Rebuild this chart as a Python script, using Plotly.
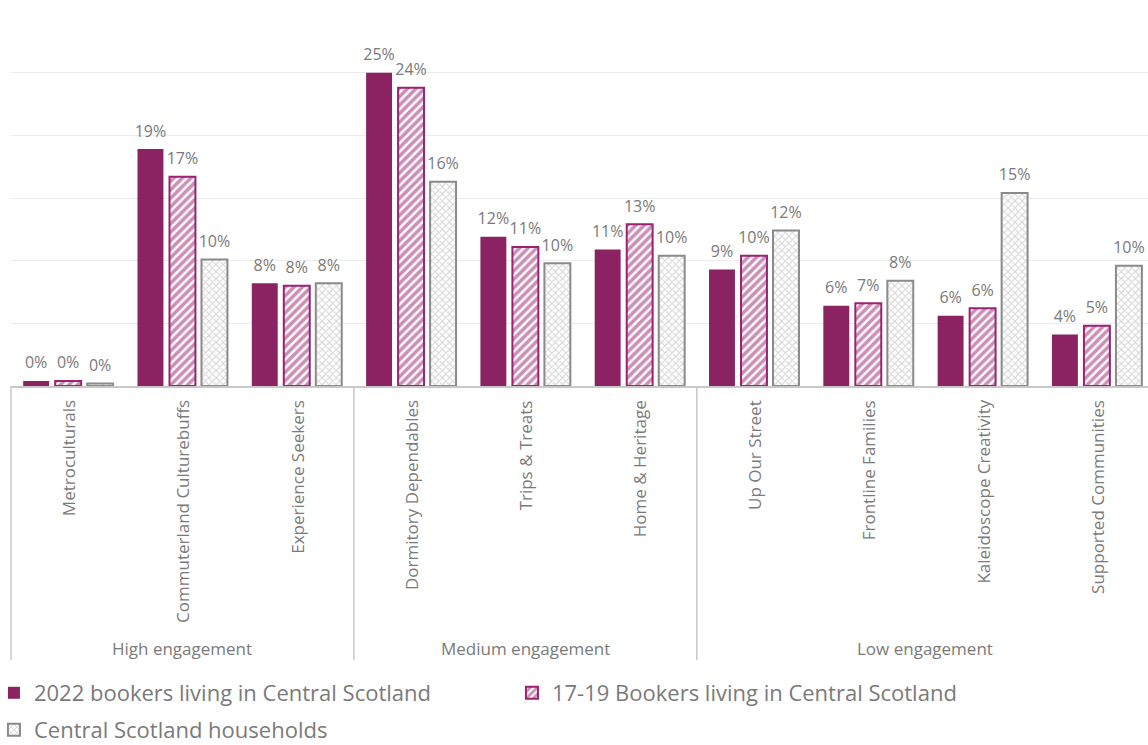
import plotly.graph_objects as go

# Audience segments, grouped by engagement level
segments = [
    "Metroculturals", "Commuterland Culturebuffs", "Experience Seekers",
    "Dormitory Dependables", "Trips & Treats", "Home & Heritage",
    "Up Our Street", "Frontline Families", "Kaleidoscope Creativity",
    "Supported Communities",
]
engagement_groups = ["High engagement", "Medium engagement", "Low engagement"]
group_sizes = [3, 3, 4]

# Share of each population in each segment
bookers_2022 = [0.004, 0.189, 0.082, 0.250, 0.119, 0.109, 0.093, 0.064, 0.056, 0.041]
bookers_1719 = [0.004, 0.167, 0.080, 0.238, 0.111, 0.129, 0.104, 0.066, 0.062, 0.048]
households = [0.002, 0.101, 0.082, 0.163, 0.098, 0.104, 0.124, 0.084, 0.154, 0.096]

series_names = [
    "2022 bookers living in Central Scotland",
    "17-19 Bookers living in Central Scotland",
    "Central Scotland households",
]
series_legends = ["legend", "legend", "legend2"]

FONT = "Open Sans"
TEXT_GREY = "#7a7a7a"
MAGENTA = "#8b2363"
MAGENTA_HATCH = "#9a2270"
GREY_EDGE = "#8a8a8a"

xpos = list(range(len(segments)))
series_values = [bookers_2022, bookers_1719, households]
markers = [
    dict(color=MAGENTA, line=dict(width=0)),
    dict(
        color="white",
        line=dict(color=MAGENTA_HATCH, width=2),
        pattern=dict(shape="/", fgcolor=MAGENTA_HATCH, bgcolor="white",
                     size=6, solidity=0.6, fillmode="overlay"),
    ),
    dict(
        color="white",
        line=dict(color=GREY_EDGE, width=2),
        pattern=dict(shape="x", fgcolor="#b4b4b4", bgcolor="white",
                     size=5, solidity=0.4, fillmode="overlay"),
    ),
]

BARGAP = 0.16

fig = go.Figure()
for k, (name, vals, mk, lg) in enumerate(
        zip(series_names, series_values, markers, series_legends)):
    fig.add_trace(go.Bar(
        name=name, x=xpos, y=vals, marker=mk, legend=lg,
        offsetgroup=str(k), hoverinfo="skip",
    ))

# value labels, offset into the same slots as the grouped bars
for k, vals in enumerate(series_values):
    fig.add_trace(go.Scatter(
        x=xpos, y=vals, mode="markers+text",
        text=[f"{v:.0%}" for v in vals], textposition="top center",
        textfont=dict(family=FONT, size=16, color=TEXT_GREY),
        marker=dict(size=12, opacity=0),
        offsetgroup=str(k), showlegend=False, hoverinfo="skip",
        cliponaxis=False,
    ))

plot_h = 376.0  # plot-area height in px, used to place text below the axis

annotations = []
# rotated segment names under each group of bars
for i, name in enumerate(segments):
    annotations.append(dict(
        x=i, xref="x", y=-12 / plot_h, yref="paper",
        text=name, textangle=-90, showarrow=False,
        xanchor="center", yanchor="top",
        font=dict(family=FONT, size=17, color=TEXT_GREY),
    ))

# engagement level labels and divider lines
shapes = []
start = 0
for label, n in zip(engagement_groups, group_sizes):
    centre = start + (n - 1) / 2
    annotations.append(dict(
        x=centre, xref="x", y=-262 / plot_h, yref="paper",
        text=label, showarrow=False, xanchor="center", yanchor="middle",
        font=dict(family=FONT, size=17, color=TEXT_GREY),
    ))
    if start > 0:
        shapes.append(dict(
            type="line", xref="x", yref="paper",
            x0=start - 0.5, x1=start - 0.5, y0=0, y1=-274 / plot_h,
            line=dict(color="#c8c8c8", width=1.5),
        ))
    start += n
shapes.append(dict(
    type="line", xref="paper", yref="paper",
    x0=0, x1=0, y0=0, y1=-274 / plot_h,
    line=dict(color="#c8c8c8", width=1.5),
))

legend_style = dict(
    orientation="h", x=-0.015, xanchor="left", yanchor="top",
    entrywidth=473, entrywidthmode="pixels",
    font=dict(family=FONT, size=22, color=TEXT_GREY),
    itemwidth=30, bgcolor="rgba(0,0,0,0)",
)

fig.update_layout(
    width=1148, height=745,
    margin=dict(l=11, r=0, t=10, b=359, autoexpand=False),
    paper_bgcolor="white", plot_bgcolor="white",
    barmode="group", bargap=BARGAP, bargroupgap=0.19,
    scattermode="group", scattergap=BARGAP,
    font=dict(family=FONT, color=TEXT_GREY),
    xaxis=dict(
        range=[-0.5, 9.447], showticklabels=False, showgrid=False,
        zeroline=False, showline=True, linecolor="#c8c8c8", linewidth=1.5,
        ticks="",
    ),
    yaxis=dict(
        range=[0, 0.30], dtick=0.05, showticklabels=False,
        showgrid=True, gridcolor="#ececec", gridwidth=1,
        zeroline=False, showline=False, ticks="",
    ),
    legend=dict(legend_style, y=-286 / plot_h),
    legend2=dict(legend_style, y=-323 / plot_h),
    annotations=annotations,
    shapes=shapes,
)

fig.write_html("out.html")
